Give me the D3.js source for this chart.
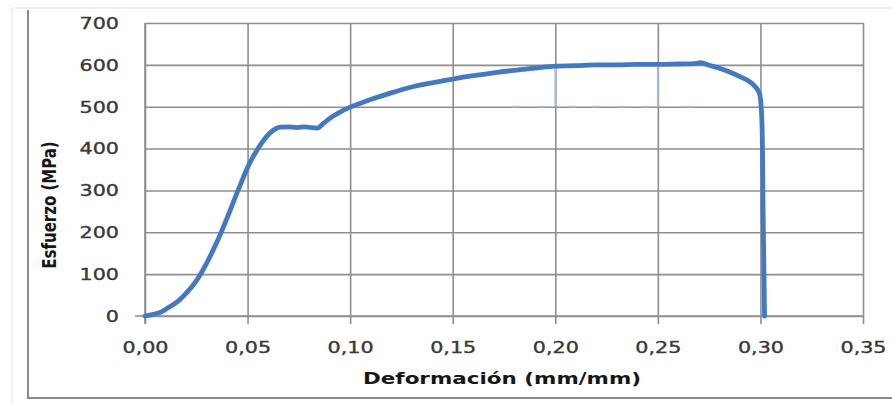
<!DOCTYPE html>
<html lang="es">
<head>
  <meta charset="utf-8">
  <script src="https://d3js.org/d3.v7.min.js"></script>
  <style>
    body, html {
      margin: 0;
      padding: 0;
      background: #fff;
    }
    .grid line, .grid path {
      stroke: #8e8e8e;
      stroke-width: 1.6px;
    }
    .tick text {
      font-family: "DejaVu Sans", sans-serif;
      font-size: 15px;
      fill: #383838;
      stroke: #383838;
      stroke-width: 0.35px;
    }
    .title {
      font-family: "DejaVu Sans", sans-serif;
      font-weight: bold;
      font-size: 15px;
      fill: #161616;
    }
  </style>
</head>
<body>
<svg id="chart" width="892" height="404"></svg>

<script>
  // tensile test curve
  var strain = [0, 0.004, 0.008, 0.012, 0.016, 0.020, 0.025, 0.030, 0.035, 0.040,
                0.045, 0.048, 0.050, 0.053, 0.056, 0.059, 0.062, 0.064, 0.066, 0.070,
                0.074, 0.078, 0.081, 0.084, 0.087, 0.090, 0.095, 0.100, 0.105, 0.110,
                0.120, 0.130, 0.140, 0.150, 0.160, 0.170, 0.180, 0.190, 0.200, 0.210,
                0.220, 0.230, 0.240, 0.250, 0.260, 0.268, 0.271, 0.275, 0.280, 0.285,
                0.290, 0.294, 0.297, 0.2995, 0.3005, 0.301, 0.3013, 0.3017, 0.302];
  var stress = [0, 4, 10, 22, 35, 54, 84, 126, 176, 234,
                296, 332, 355, 383, 407, 427, 442, 448, 451, 452,
                450, 452, 450, 449, 460, 472, 487, 499, 508, 517,
                533, 547, 557, 566, 574, 581, 587, 592, 597, 598,
                600, 600, 601, 601, 602, 603, 605, 599, 592, 583,
                572, 562, 550, 532, 490, 400, 250, 110, 0];

  // faint stray marks that show up under the plateau
  var ghostStrain = [0.179, 0.192, 0.207, 0.218, 0.231, 0.2425, 0.264];
  var ghostStress = 500;
  var ghostBars = [0.20, 0.25];

  var xTicks = [0, 0.05, 0.10, 0.15, 0.20, 0.25, 0.30, 0.35];
  var yTicks = [0, 100, 200, 300, 400, 500, 600, 700];

  var svg = d3.select("#chart");

  // outer frame of the scanned figure
  svg.append("line").attr("x1", 12).attr("x2", 892).attr("y1", 8).attr("y2", 8)
    .attr("stroke", "#ececec").attr("stroke-width", 1.5);
  svg.append("line").attr("x1", 12).attr("x2", 12).attr("y1", 8).attr("y2", 404)
    .attr("stroke", "#ececec").attr("stroke-width", 1.5);
  svg.append("line").attr("x1", 28).attr("x2", 28).attr("y1", 10).attr("y2", 399)
    .attr("stroke", "#8a8a8a").attr("stroke-width", 2);
  svg.append("line").attr("x1", 27).attr("x2", 892).attr("y1", 398).attr("y2", 398)
    .attr("stroke", "#8a8a8a").attr("stroke-width", 2.2);

  var x = d3.scaleLinear().domain([0, 0.35]).range([145, 863]);
  var y = d3.scaleLinear().domain([0, 700]).range([316, 23]);

  var fmt = function(d) { return d3.format(".2f")(d).replace(".", ","); };

  // vertical gridlines + x axis
  var gx = svg.append("g").attr("class", "grid")
    .attr("transform", "translate(0,316)")
    .call(d3.axisBottom(x).tickValues(xTicks).tickSize(8).tickFormat(fmt).tickPadding(0));
  gx.select(".domain").remove();
  gx.selectAll(".tick line").attr("y1", -(316 - 23));
  gx.selectAll(".tick text")
    .attr("y", 0).attr("dy", 0)
    .attr("transform", "translate(0,37) scale(1.38,1)");

  // horizontal gridlines + y axis
  var gy = svg.append("g").attr("class", "grid")
    .attr("transform", "translate(145,0)")
    .call(d3.axisLeft(y).tickValues(yTicks).tickSize(10).tickPadding(0));
  gy.select(".domain").remove();
  gy.selectAll(".tick line").attr("x2", 863 - 145);
  gy.selectAll(".tick text")
    .attr("x", 0).attr("dy", "0.36em")
    .attr("transform", "translate(-26,0) scale(1.38,1)");

  // left and bottom axis lines
  svg.append("line").attr("x1", x(0)).attr("x2", x(0)).attr("y1", y(700)).attr("y2", y(0) + 8)
    .attr("stroke", "#8e8e8e").attr("stroke-width", 1.6);
  svg.append("line").attr("x1", x(0) - 10).attr("x2", x(0.35)).attr("y1", y(0)).attr("y2", y(0))
    .attr("stroke", "#8e8e8e").attr("stroke-width", 1.6);

  // ghost marks
  var ghost = svg.append("g").attr("stroke", "#9fbce8").attr("stroke-width", 1.8);
  ghostStrain.forEach(function(s) {
    ghost.append("line")
      .attr("x1", x(s)).attr("x2", x(s + 0.003))
      .attr("y1", y(ghostStress)).attr("y2", y(ghostStress));
  });
  ghostBars.forEach(function(s) {
    ghost.append("line")
      .attr("x1", x(s)).attr("x2", x(s))
      .attr("y1", y(ghostStress)).attr("y2", y(600));
  });

  // main curve
  var pts = strain.map(function(s, i) { return [s, stress[i]]; });
  var line = d3.line()
    .x(function(d) { return x(d[0]); })
    .y(function(d) { return y(d[1]); })
    .curve(d3.curveMonotoneX);

  svg.append("path")
    .datum(pts)
    .attr("d", line)
    .attr("fill", "none")
    .attr("stroke", "#4479c2")
    .attr("stroke-width", 4.8)
    .attr("stroke-linejoin", "round")
    .attr("stroke-linecap", "round");

  // axis titles
  svg.append("text").attr("class", "title")
    .attr("transform", "translate(502,384) scale(1.43,1)")
    .attr("text-anchor", "middle")
    .text("Deformación (mm/mm)");

  svg.append("text").attr("class", "title")
    .attr("transform", "translate(56,205) rotate(-90) scale(1,1.35)")
    .attr("text-anchor", "middle")
    .text("Esfuerzo (MPa)");
</script>
</body>
</html>
